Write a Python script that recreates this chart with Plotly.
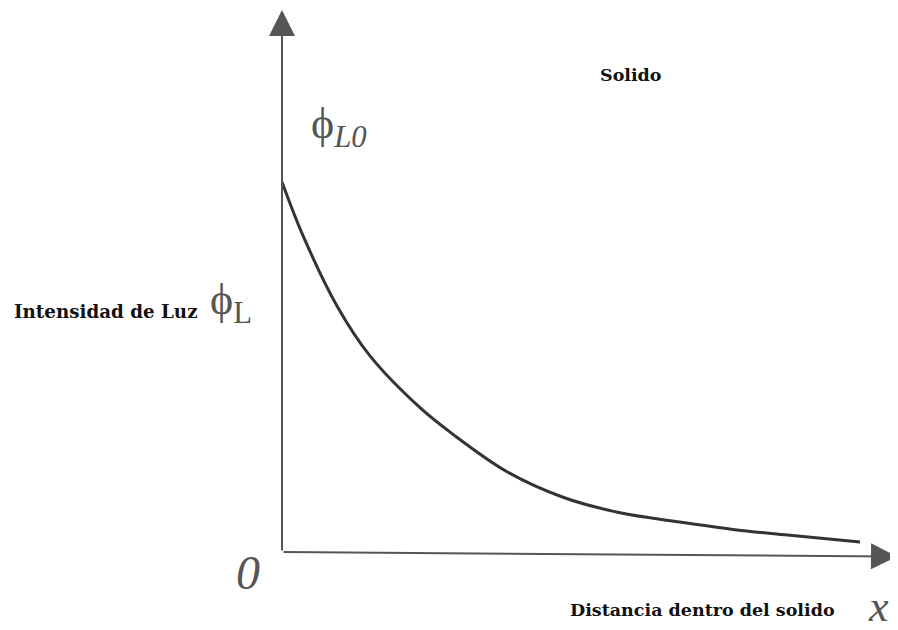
import plotly.graph_objects as go

# Light intensity decay inside the solid
distance = [0.0, 0.21, 0.55, 0.88, 1.38, 1.71, 2.25, 2.81, 3.38, 3.95, 4.51, 5.08, 5.78]
intensity = [1.0, 0.855, 0.665, 0.53, 0.39, 0.318, 0.217, 0.148, 0.106, 0.082, 0.061, 0.045, 0.027]

X_MAX = 6.11
Y_MAX = 1.465

fig = go.Figure()
fig.add_trace(go.Scatter(
    x=distance, y=intensity, mode="lines",
    line=dict(color="#333333", width=3, shape="spline", smoothing=1.0),
    hoverinfo="skip", showlegend=False, cliponaxis=False,
))

axis_col = "#555555"
# y axis arrow
fig.add_annotation(x=0, y=Y_MAX, ax=0, ay=0, xref="x", yref="y", axref="x", ayref="y",
                   showarrow=True, arrowhead=2, arrowsize=2.6, arrowwidth=2,
                   arrowcolor=axis_col, text="")
# x axis arrow
fig.add_annotation(x=X_MAX + 0.04, y=-0.012, ax=0, ay=0, xref="x", yref="y", axref="x", ayref="y",
                   showarrow=True, arrowhead=2, arrowsize=2.6, arrowwidth=2,
                   arrowcolor=axis_col, text="")

bold = dict(family="DejaVu Serif", size=17.5, color="#111111")
greek = dict(family="Liberation Serif", size=44, color="#555555")

def lab(text, x, y, font, xanchor="center"):
    fig.add_annotation(text=text, x=x, y=y, xref="paper", yref="paper",
                       xanchor=xanchor, yanchor="middle", showarrow=False, font=font)

lab("<b>Solido</b>", 0.571, 0.880, bold)
lab("<b>Intensidad de Luz</b>", -0.134, 0.443, bold | dict(size=18.3), xanchor="right")
lab("ϕ<sub>L</sub>", -0.121, 0.460, greek, xanchor="left")
lab("ϕ<sub><i>L0</i></sub>", 0.045, 0.785, greek, xanchor="left")
lab("<i>0</i>", -0.0556, -0.037, dict(family="Liberation Serif", size=48, color="#555555"))
lab("<b>Distancia dentro del solido</b>", 0.468, -0.107, bold, xanchor="left")
lab("<i>x</i>", 0.977, -0.100, dict(family="Liberation Serif", size=44, color="#555555"))

# the page body adds an 8px offset, so the figure is 8px smaller and margins shifted
fig.update_layout(
    width=890, height=622,
    margin=dict(l=274, r=5, t=2, b=78),
    paper_bgcolor="white", plot_bgcolor="white",
    xaxis=dict(range=[0, X_MAX], visible=False, fixedrange=True),
    yaxis=dict(range=[0, Y_MAX], visible=False, fixedrange=True),
    showlegend=False,
)

fig.write_html("out.html")
